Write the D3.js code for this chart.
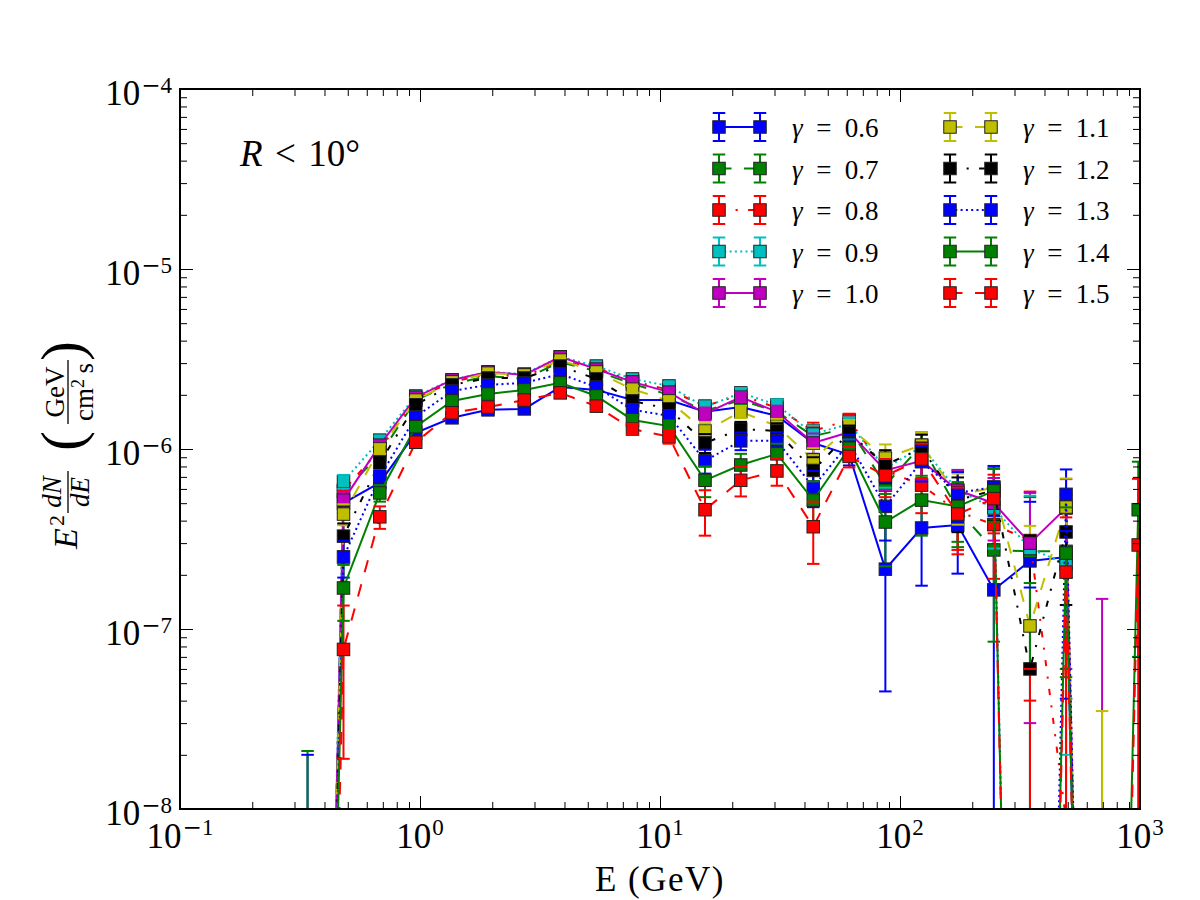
<!DOCTYPE html>
<html>
<head>
<meta charset="utf-8">
<script src="https://cdn.jsdelivr.net/npm/d3@7"></script>
<style>
	body { margin: 0; background: #fff; }
	svg { display: block; font-family: 'Liberation Serif', 'DejaVu Serif', serif; }
</style>
</head>
<body>
<svg id="chart"></svg>
<script>
// energy bin centres (GeV)
const energies = [0.34, 0.48, 0.68, 0.96, 1.36, 1.92, 2.72, 3.84, 5.43, 7.68, 10.9, 15.4, 21.7, 30.7, 43.5, 61.4, 86.9, 123, 174, 246, 348, 492, 695, 983];

// flux error per bin, same for every profile
const fluxErrors = [2.1e-8, 5.8e-8, 6e-8, 6e-8, 6e-8, 6e-8, 6.5e-8, 7e-8, 8e-8, 9e-8, 1.0e-7, 1.3e-7, 1.25e-7, 1.3e-7, 1.4e-7, 1.2e-7, 1.7e-7, 1.9e-7, 1.75e-7, 1.9e-7, 2.7e-7, 2.1e-7, 1.5e-7, 3.9e-7];

// E^2 dN/dE for each inner slope gamma (values <= 0 fall below the axis)
const gamma06 = [-3e-8, 5.0e-7, 6.5e-7, 1.23e-6, 1.49e-6, 1.65e-6, 1.67e-6, 2.21e-6, 2.13e-6, 1.87e-6, 1.87e-6, 1.61e-6, 1.71e-6, 1.53e-6, 1.08e-6, 9.3e-7, 2.15e-7, 3.64e-7, 3.78e-7, 1.65e-7, 2.39e-7, 2.51e-7, -2e-7, -5e-7];
const gamma07 = [-3e-8, 5.8e-7, 9.3e-7, 1.87e-6, 2.30e-6, 2.54e-6, 2.45e-6, 3.04e-6, 2.71e-6, 2.30e-6, 2.00e-6, 1.63e-6, 1.87e-6, 1.61e-6, 1.18e-6, 1.31e-6, 6.3e-7, 1.05e-6, 4.6e-7, 2.75e-7, 2.7e-7, 2.7e-7, -2e-7, -5e-7];
const gamma08 = [-3e-8, 5.9e-7, 9.9e-7, 1.92e-6, 2.36e-6, 2.61e-6, 2.51e-6, 3.12e-6, 2.82e-6, 2.39e-6, 2.13e-6, 1.73e-6, 2.00e-6, 1.69e-6, 1.26e-6, 1.45e-6, 7.6e-7, 6.3e-7, 4.5e-7, 3.8e-7, 3.1e-7, 8.7e-9, -2e-7, -5e-7];
const gamma09 = [-3e-8, 6.6e-7, 1.12e-6, 1.97e-6, 2.42e-6, 2.68e-6, 2.61e-6, 3.25e-6, 2.89e-6, 2.45e-6, 2.24e-6, 1.71e-6, 2.05e-6, 1.76e-6, 1.21e-6, 1.38e-6, 7.8e-7, 1.03e-6, 5.9e-7, 4.7e-7, 2.8e-7, 2.3e-7, -2e-7, -5e-7];
const gamma10 = [-3e-8, 5.2e-7, 1.05e-6, 1.94e-6, 2.42e-6, 2.68e-6, 2.58e-6, 3.25e-6, 2.78e-6, 2.36e-6, 2.07e-6, 1.57e-6, 1.94e-6, 1.61e-6, 1.08e-6, 1.24e-6, 7.6e-7, 8.6e-7, 5.9e-7, 5.0e-7, 3.0e-7, 4.7e-7, -3e-9, -5e-7];
const gamma11 = [-3e-8, 4.35e-7, 1.0e-6, 1.87e-6, 2.36e-6, 2.64e-6, 2.58e-6, 3.12e-6, 2.68e-6, 2.15e-6, 1.85e-6, 1.26e-6, 1.61e-6, 1.34e-6, 8.7e-7, 1.33e-6, 8.9e-7, 1.05e-6, 5.55e-7, 6.1e-7, 1.04e-7, 4.76e-7, -1.15e-7, -5e-7];
const gamma12 = [-3e-8, 3.28e-7, 8.4e-7, 1.76e-6, 2.27e-6, 2.48e-6, 2.48e-6, 2.89e-6, 2.45e-6, 1.85e-6, 1.67e-6, 1.08e-6, 1.29e-6, 1.26e-6, 7.6e-7, 1.23e-6, 8.15e-7, 1.01e-6, 5.2e-7, 5.9e-7, 6.0e-8, 3.46e-7, -2e-7, -5e-7];
const gamma13 = [-1e-9, 2.51e-7, 7.0e-7, 1.51e-6, 2.10e-6, 2.27e-6, 2.33e-6, 2.61e-6, 2.21e-6, 1.65e-6, 1.53e-6, 8.6e-7, 1.11e-6, 1.11e-6, 6.15e-7, 1.08e-6, 4.8e-7, 8.5e-7, 5.7e-7, 6.15e-7, -1.0e-7, 5.6e-7, -2e-7, -5e-7];
const gamma14 = [0, 1.69e-7, 5.7e-7, 1.33e-6, 1.85e-6, 2.02e-6, 2.13e-6, 2.33e-6, 1.97e-6, 1.45e-6, 1.34e-6, 6.7e-7, 8.15e-7, 9.4e-7, 5.2e-7, 1.01e-6, 3.93e-7, 5.2e-7, 4.8e-7, 5.85e-7, -0.9e-7, 2.64e-7, -2e-7, 4.6e-7];
const gamma15 = [-3e-8, 7.7e-8, 4.2e-7, 1.09e-6, 1.59e-6, 1.71e-6, 1.87e-6, 2.05e-6, 1.73e-6, 1.29e-6, 1.17e-6, 4.6e-7, 6.7e-7, 7.55e-7, 3.7e-7, 9.1e-7, 7.1e-7, 8.8e-7, 4.35e-7, 5.3e-7, -2.1e-7, 2.07e-7, -2e-7, 2.93e-7];

const gammaLabels = ['0.6', '0.7', '0.8', '0.9', '1.0', '1.1', '1.2', '1.3', '1.4', '1.5'];
const seriesValues = [gamma06, gamma07, gamma08, gamma09, gamma10, gamma11, gamma12, gamma13, gamma14, gamma15];

const xMajorTicks = [0.1, 1, 10, 100, 1000];
const yMajorTicks = [1e-8, 1e-7, 1e-6, 1e-5, 1e-4];

// matplotlib style per series
const lineColors = ['#0000ff', '#008000', '#ff0000', '#00bfbf', '#bf00bf', '#bfbf00', '#000000', '#0000ff', '#008000', '#ff0000'];
const lineDashes = [null, '12.5,12.5', '6.2,10.4,2.1,10.4', '2,3.3', null, '12.5,12.5', '6.2,10.4,2.1,10.4', '2,3.3', null, '12.5,12.5'];

class SpectrumChart {
	constructor(_config) {
		this.config = {
			parentElement: _config.parentElement,
			containerWidth: 1200,
			containerHeight: 900,
			margin: { top: 89, right: 60, bottom: 91, left: 180 },
			markerSize: 12.5,
			capWidth: 12.5,
			floorFlux: 1e-15,
		};
		this.initVis();
	}

	initVis() {
		let vis = this;

		vis.width = vis.config.containerWidth - vis.config.margin.left - vis.config.margin.right;
		vis.height = vis.config.containerHeight - vis.config.margin.top - vis.config.margin.bottom;

		vis.svg = d3
			.select(vis.config.parentElement)
			.attr('width', vis.config.containerWidth)
			.attr('height', vis.config.containerHeight);

		vis.chart = vis.svg
			.append('g')
			.attr('transform', `translate(${vis.config.margin.left},${vis.config.margin.top})`);

		vis.svg
			.append('defs')
			.append('clipPath')
			.attr('id', 'plot-clip')
			.append('rect')
			.attr('width', vis.width)
			.attr('height', vis.height);

		vis.xScale = d3.scaleLog().domain([0.1, 1000]).range([0, vis.width]);
		vis.yScale = d3.scaleLog().domain([1e-8, 1e-4]).range([vis.height, 0]);

		// negative / zero fluxes get pushed far below the axis like matplotlib's clip
		vis.yPos = (v) => vis.yScale(v > 0 ? v : vis.config.floorFlux);

		vis.plotG = vis.chart.append('g').attr('clip-path', 'url(#plot-clip)');
	}

	updateVis() {
		let vis = this;
		vis.seriesData = seriesValues.map((vals, i) => ({
			gamma: gammaLabels[i],
			color: lineColors[i],
			dash: lineDashes[i],
			points: vals.map((v, j) => ({
				e: energies[j],
				v: v,
				hi: v + fluxErrors[j],
				lo: v - fluxErrors[j],
			})),
		}));
		vis.renderVis();
	}

	renderVis() {
		let vis = this;
		const half = vis.config.markerSize / 2;
		const cap = vis.config.capWidth / 2;

		// all error bar stems go underneath everything (they are collections in mpl)
		vis.plotG
			.selectAll('.bar-group')
			.data(vis.seriesData)
			.join('g')
			.attr('class', 'bar-group')
			.attr('stroke', (d) => d.color)
			.attr('stroke-width', 2)
			.selectAll('line')
			.data((d) => d.points.filter((p) => p.hi > 0))
			.join('line')
			.attr('x1', (p) => vis.xScale(p.e))
			.attr('x2', (p) => vis.xScale(p.e))
			.attr('y1', (p) => vis.yScale(p.hi))
			.attr('y2', (p) => (p.lo > 0 ? vis.yScale(p.lo) : vis.height + 10));

		const line = d3
			.line()
			.x((p) => vis.xScale(p.e))
			.y((p) => vis.yPos(p.v));

		const series = vis.plotG
			.selectAll('.series')
			.data(vis.seriesData)
			.join('g')
			.attr('class', 'series');

		series
			.append('path')
			.attr('d', (d) => line(d.points))
			.attr('fill', 'none')
			.attr('stroke', (d) => d.color)
			.attr('stroke-width', 2)
			.attr('stroke-dasharray', (d) => d.dash);

		series
			.selectAll('.marker')
			.data((d) => d.points.filter((p) => p.v > 0).map((p) => ({ ...p, color: d.color })))
			.join('rect')
			.attr('class', 'marker')
			.attr('x', (p) => vis.xScale(p.e) - half)
			.attr('y', (p) => vis.yScale(p.v) - half)
			.attr('width', vis.config.markerSize)
			.attr('height', vis.config.markerSize)
			.attr('fill', (p) => p.color)
			.attr('stroke', '#222')
			.attr('stroke-width', 1);

		// caps (upper and lower)
		series.each(function (d) {
			const caps = [];
			d.points.forEach((p) => {
				if (p.hi > 0) caps.push({ e: p.e, f: p.hi });
				if (p.lo > 0) caps.push({ e: p.e, f: p.lo });
			});
			d3.select(this)
				.selectAll('.cap')
				.data(caps)
				.join('line')
				.attr('class', 'cap')
				.attr('x1', (c) => vis.xScale(c.e) - cap)
				.attr('x2', (c) => vis.xScale(c.e) + cap)
				.attr('y1', (c) => vis.yScale(c.f))
				.attr('y2', (c) => vis.yScale(c.f))
				.attr('stroke', d.color)
				.attr('stroke-width', 2);
		});

		vis.renderAxes();
		vis.renderLegend();
		vis.renderLabels();
	}

	renderAxes() {
		let vis = this;

		const minorTicks = (lo, hi) => {
			const t = [];
			for (let d = lo; d < hi * 0.99; d *= 10) {
				for (let m = 2; m < 10; m++) t.push(d * m);
			}
			return t;
		};
		const xMinor = minorTicks(0.1, 1000);
		const yMinor = minorTicks(1e-8, 1e-4);

		const sides = [
			{ axis: d3.axisBottom(vis.xScale), t: `translate(0,${vis.height})`, major: xMajorTicks, minor: xMinor },
			{ axis: d3.axisTop(vis.xScale), t: 'translate(0,0)', major: xMajorTicks, minor: xMinor },
			{ axis: d3.axisLeft(vis.yScale), t: 'translate(0,0)', major: yMajorTicks, minor: yMinor },
			{ axis: d3.axisRight(vis.yScale), t: `translate(${vis.width},0)`, major: yMajorTicks, minor: yMinor },
		];

		sides.forEach((s) => {
			[
				{ vals: s.major, size: -13 },
				{ vals: s.minor, size: -7 },
			].forEach((set) => {
				vis.chart
					.append('g')
					.attr('transform', s.t)
					.call(s.axis.tickValues(set.vals).tickSize(set.size).tickFormat(''))
					.call((g) => g.select('.domain').remove())
					.call((g) => g.selectAll('text').remove())
					.selectAll('line')
					.attr('stroke', '#000')
					.attr('stroke-width', 1);
			});
		});

		vis.chart
			.append('rect')
			.attr('width', vis.width)
			.attr('height', vis.height)
			.attr('fill', 'none')
			.attr('stroke', '#000')
			.attr('stroke-width', 2);

		// tick labels as 10^n, minus sign taken from a font with a long dash like CM
		const addPower = (sel, dy) => {
			sel.append('tspan').text('10');
			const exp = sel.append('tspan')
				.attr('dy', dy)
				.attr('dx', 1)
				.style('font-size', '23px');
			exp.append('tspan')
				.style('font-family', "'DejaVu Serif', serif")
				.text((d) => (Math.log10(d) < 0 ? '\u2212' : ''));
			exp.append('tspan')
				.text((d) => String(Math.abs(Math.round(Math.log10(d)))));
		};

		const yLabels = vis.chart
			.selectAll('.y-tick-label')
			.data(yMajorTicks)
			.join('text')
			.attr('class', 'y-tick-label')
			.attr('x', -8)
			.attr('y', (d) => vis.yScale(d) + 16)
			.attr('text-anchor', 'end')
			.style('font-size', '35px');
		addPower(yLabels, -12);

		const xLabels = vis.chart
			.selectAll('.x-tick-label')
			.data(xMajorTicks)
			.join('text')
			.attr('class', 'x-tick-label')
			.attr('x', (d) => vis.xScale(d))
			.attr('y', vis.height + 39)
			.attr('text-anchor', 'middle')
			.style('font-size', '35px');
		addPower(xLabels, -13);
	}

	renderLegend() {
		let vis = this;
		const colX = [719, 950];
		const rowY0 = 127;
		const rowGap = 41.5;
		const pairGap = 41;
		const half = vis.config.markerSize / 2;
		const cap = vis.config.capWidth / 2;

		const items = vis.svg
			.selectAll('.legend-item')
			.data(vis.seriesData)
			.join('g')
			.attr('class', 'legend-item')
			.attr('transform', (d, i) => `translate(${colX[Math.floor(i / 5)]},${rowY0 + (i % 5) * rowGap})`);

		items.each(function (d) {
			const g = d3.select(this);
			[0, pairGap].forEach((px) => {
				g.append('line')
					.attr('x1', px).attr('x2', px)
					.attr('y1', -14).attr('y2', 14)
					.attr('stroke', d.color).attr('stroke-width', 2);
			});
			g.append('line')
				.attr('x1', 0).attr('x2', pairGap)
				.attr('y1', 0).attr('y2', 0)
				.attr('stroke', d.color)
				.attr('stroke-width', 2)
				.attr('stroke-dasharray', d.dash);
			[0, pairGap].forEach((px) => {
				g.append('rect')
					.attr('x', px - half).attr('y', -half)
					.attr('width', vis.config.markerSize).attr('height', vis.config.markerSize)
					.attr('fill', d.color).attr('stroke', '#222').attr('stroke-width', 1);
				[-14, 14].forEach((cy) => {
					g.append('line')
						.attr('x1', px - cap).attr('x2', px + cap)
						.attr('y1', cy).attr('y2', cy)
						.attr('stroke', d.color).attr('stroke-width', 2);
				});
			});
			const txt = g.append('text')
				.attr('x', 73)
				.attr('y', 10)
				.style('font-size', '27px');
			txt.append('tspan').style('font-style', 'italic').text('\u03b3');
			txt.append('tspan').text(`\u2002=\u2002${d.gamma}`);
		});
	}

	renderLabels() {
		let vis = this;

		// region annotation
		const ann = vis.svg
			.append('text')
			.attr('x', 240)
			.attr('y', 166)
			.style('font-size', '37px');
		ann.append('tspan').style('font-style', 'italic').text('R');
		ann.append('tspan').text('\u2004<\u200410\u00b0');

		vis.svg
			.append('text')
			.attr('x', 660)
			.attr('y', 891)
			.attr('text-anchor', 'middle')
			.style('font-size', '35px')
			.style('letter-spacing', '1.5px')
			.text('E (GeV)');

		// y label: E^2 dN/dE (GeV / cm^2 s), rotated
		const yl = vis.svg.append('g').attr('transform', 'translate(77,449) rotate(-90)');
		yl.append('text').attr('x', -100).attr('y', 0)
			.style('font-style', 'italic').style('font-size', '34px').text('E');
		yl.append('text').attr('x', -77).attr('y', -13)
			.style('font-size', '22px').text('2');
		yl.append('text').attr('x', -43).attr('y', -16).attr('text-anchor', 'middle')
			.style('font-style', 'italic').style('font-size', '27px').text('dN');
		yl.append('line').attr('x1', -64).attr('x2', -22).attr('y1', -9).attr('y2', -9)
			.attr('stroke', '#000').attr('stroke-width', 1.3);
		yl.append('text').attr('x', -43).attr('y', 12).attr('text-anchor', 'middle')
			.style('font-style', 'italic').style('font-size', '27px').text('dE');

		yl.append('text').attr('x', -2).attr('y', 5)
			.style('font-size', '60px').style('font-weight', '300').text('(');
		yl.append('text').attr('x', 57).attr('y', -13).attr('text-anchor', 'middle')
			.style('font-size', '27px').text('GeV');
		yl.append('line').attr('x1', 25).attr('x2', 89).attr('y1', -9).attr('y2', -9)
			.attr('stroke', '#000').attr('stroke-width', 1.3);
		const den = yl.append('text').attr('x', 57).attr('y', 16).attr('text-anchor', 'middle')
			.style('font-size', '27px');
		den.append('tspan').text('cm');
		den.append('tspan').attr('dy', -9).style('font-size', '18px').text('2');
		den.append('tspan').attr('dy', 9).text('\u2009s');
		yl.append('text').attr('x', 88).attr('y', 5)
			.style('font-size', '60px').style('font-weight', '300').text(')');
	}
}

const chart = new SpectrumChart({ parentElement: '#chart' });
chart.updateVis();
</script>
</body>
</html>
